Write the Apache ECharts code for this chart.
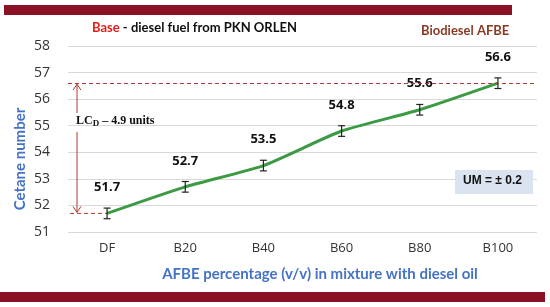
<!DOCTYPE html>
<html>
<head>
<meta charset="utf-8">
<script src="https://cdn.jsdelivr.net/npm/echarts@6/dist/echarts.min.js"></script>
<style>
  html, body { margin: 0; padding: 0; background: #fff; }
  #main { width: 550px; height: 307px; }
</style>
</head>
<body>
<div id="main"></div>
<script>
// data
var categories = ['DF', 'B20', 'B40', 'B60', 'B80', 'B100'];
var cetane = [51.7, 52.7, 53.5, 54.8, 55.6, 56.6];
var uncertainty = 0.2;
var yTicks = [51, 52, 53, 54, 55, 56, 57, 58];

var chart = echarts.init(document.getElementById('main'));

var errData = cetane.map(function (v, i) { return [i, v - uncertainty, v + uncertainty, v]; });

var option = {
  animation: false,
  grid: { left: 68, right: 13, top: 46, bottom: 75 },
  xAxis: {
    type: 'category',
    data: categories,
    boundaryGap: true,
    axisLine: { show: false },
    axisTick: { show: false },
    axisLabel: { color: '#333', fontSize: 13, fontFamily: 'Open Sans', margin: 10 }
  },
  yAxis: {
    type: 'value',
    min: yTicks[0],
    max: yTicks[yTicks.length - 1],
    interval: 1,
    axisLine: { show: false },
    axisTick: { show: false },
    axisLabel: { color: '#333', fontSize: 14, fontFamily: 'Open Sans', margin: 18 },
    splitLine: { lineStyle: { color: '#d9d9d9', width: 1 } }
  },
  series: [
    {
      type: 'line',
      data: cetane,
      smooth: 0.2,
      symbol: 'none',
      lineStyle: { color: '#3c9a44', width: 3 },
      markLine: {
        symbol: 'none',
        silent: true,
        label: { show: false },
        lineStyle: { color: '#b03a2e', type: [4, 3], width: 1 },
        data: [{ yAxis: cetane[cetane.length - 1] }]
      },
      z: 3
    },
    {
      // error bars and value labels
      type: 'custom',
      data: errData,
      z: 4,
      renderItem: function (params, api) {
        var x = api.coord([api.value(0), api.value(1)])[0];
        var lo = api.coord([api.value(0), api.value(1)])[1];
        var hi = api.coord([api.value(0), api.value(2)])[1];
        var mid = api.coord([api.value(0), api.value(3)])[1];
        var hw = 3.5;
        var style = { stroke: '#222', lineWidth: 1.2 };
        return {
          type: 'group',
          children: [
            { type: 'line', shape: { x1: x, y1: lo, x2: x, y2: hi }, style: style },
            { type: 'line', shape: { x1: x - hw, y1: lo, x2: x + hw, y2: lo }, style: style },
            { type: 'line', shape: { x1: x - hw, y1: hi, x2: x + hw, y2: hi }, style: style },
            {
              type: 'text', x: x, y: mid - 26,
              style: {
                text: String(api.value(3)), fill: '#111', fontSize: 13, fontWeight: 'bold',
                fontFamily: 'Open Sans', align: 'center', verticalAlign: 'middle'
              }
            }
          ]
        };
      }
    }
  ]
};

chart.setOption(option);

// annotations placed through the axes
var pLow = chart.convertToPixel({ seriesIndex: 0 }, [0, cetane[0]]);
var pHigh = chart.convertToPixel({ seriesIndex: 0 }, [cetane.length - 1, cetane[cetane.length - 1]]);
var arrowX = 77;
var red = '#b03a2e';

chart.setOption({
  graphic: [
    { type: 'rect', shape: { x: 4, y: 5, width: 508, height: 10 }, style: { fill: '#8b1224' } },
    { type: 'rect', shape: { x: 0, y: 292, width: 545, height: 10 }, style: { fill: '#8b1224' } },
    {
      type: 'text', left: 92, top: 21,
      style: {
        text: '{r|Base} - diesel fuel from PKN ORLEN',
        fill: '#111', fontSize: 13, fontWeight: 'bold', fontFamily: 'Lato',
        rich: { r: { fill: '#e0201b', fontSize: 13, fontWeight: 'bold', fontFamily: 'Lato' } }
      }
    },
    {
      type: 'text', left: 421, top: 24,
      style: { text: 'Biodiesel AFBE', fill: '#8a3a24', fontSize: 13, fontWeight: 'bold', fontFamily: 'Lato' }
    },
    {
      type: 'text', x: 20, y: 159, rotation: Math.PI / 2,
      style: {
        text: 'Cetane number', fill: '#4472c4', fontSize: 15, fontWeight: 'bold', fontFamily: 'Lato',
        align: 'center', verticalAlign: 'middle'
      }
    },
    {
      type: 'text', x: 320, y: 274,
      style: {
        text: 'AFBE percentage (v/v) in mixture with diesel oil', fill: '#4472c4', fontSize: 15,
        fontWeight: 'bold', fontFamily: 'Lato', align: 'center', verticalAlign: 'middle'
      }
    },
    {
      type: 'line', shape: { x1: 70, y1: pLow[1], x2: pLow[0], y2: pLow[1] },
      style: { stroke: red, lineDash: [4, 3], lineWidth: 1 }
    },
    {
      type: 'line', shape: { x1: arrowX, y1: pHigh[1] + 1, x2: arrowX, y2: 113 },
      style: { stroke: red, lineWidth: 1 }
    },
    {
      type: 'line', shape: { x1: arrowX, y1: 132, x2: arrowX, y2: pLow[1] - 1 },
      style: { stroke: red, lineWidth: 1 }
    },
    {
      type: 'polyline', shape: { points: [[arrowX - 4, pHigh[1] + 7], [arrowX, pHigh[1] + 1], [arrowX + 4, pHigh[1] + 7]] },
      style: { stroke: red, fill: null, lineWidth: 1 }
    },
    {
      type: 'polyline', shape: { points: [[arrowX - 4, pLow[1] - 7], [arrowX, pLow[1] - 1], [arrowX + 4, pLow[1] - 7]] },
      style: { stroke: red, fill: null, lineWidth: 1 }
    },
    {
      type: 'text', left: arrowX - 1, top: 115,
      style: {
        text: 'LC{s|D} – 4.9 units',
        fill: '#111', fontSize: 12, fontWeight: 'bold', fontFamily: 'Liberation Serif',
        rich: { s: { fontSize: 9, fontWeight: 'bold', fontFamily: 'Liberation Serif', padding: [5, 0, 0, 0] } }
      }
    },
    { type: 'rect', shape: { x: 455, y: 170, width: 78, height: 24 }, style: { fill: '#dae3f0' } },
    {
      type: 'text', left: 463, top: 175,
      style: { text: 'UM = ± 0.2', fill: '#111', fontSize: 12, fontWeight: 'bold', fontFamily: 'Liberation Sans' }
    }
  ]
});
</script>
</body>
</html>
